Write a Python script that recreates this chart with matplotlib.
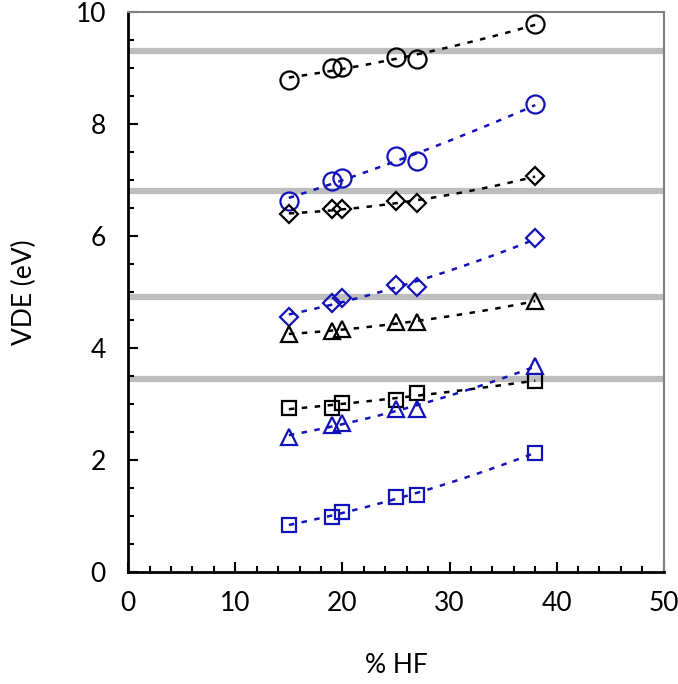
import numpy as np
import matplotlib
matplotlib.use("Agg")
import matplotlib.pyplot as plt
from matplotlib.ticker import MultipleLocator

hf = [15, 19, 20, 25, 27, 38]

black_circle = [8.79, 9.00, 9.02, 9.21, 9.16, 9.79]
blue_circle = [6.63, 6.98, 7.04, 7.43, 7.34, 8.36]
black_diamond = [6.39, 6.48, 6.48, 6.63, 6.59, 7.07]
blue_diamond = [4.55, 4.80, 4.89, 5.13, 5.09, 5.96]
black_triangle = [4.25, 4.30, 4.34, 4.46, 4.46, 4.84]
black_square = [2.93, 2.93, 3.02, 3.07, 3.20, 3.41]
blue_triangle = [2.41, 2.63, 2.66, 2.91, 2.91, 3.68]
blue_square = [0.84, 0.98, 1.07, 1.34, 1.38, 2.13]

reference_levels = [9.30, 6.80, 4.91, 3.45]

BLUE = "#1212b8"
BLACK = "#000000"

series = [
    (black_circle, BLACK, "o", 13),
    (blue_circle, BLUE, "o", 13),
    (black_diamond, BLACK, "D", 9),
    (blue_diamond, BLUE, "D", 9),
    (black_triangle, BLACK, "^", 12),
    (black_square, BLACK, "s", 10.5),
    (blue_triangle, BLUE, "^", 12),
    (blue_square, BLUE, "s", 10.5),
]

plt.rcParams['font.family'] = ['Lato', 'DejaVu Sans']

fig = plt.figure(figsize=(6.78, 6.84), dpi=100)
ax = fig.add_axes([0.189, 0.164, 0.790, 0.818])

for lvl in reference_levels:
    ax.axhline(lvl, color="#bdbdbd", lw=4.5, zorder=1)

xs = np.array(hf, dtype=float)
xfit = np.linspace(xs.min(), xs.max(), 100)
for vals, col, mk, ms in series:
    coef = np.polyfit(xs, vals, 2)
    ax.plot(xfit, np.polyval(coef, xfit), ls=(0, (2.2, 3.0)), color=col, lw=1.8, zorder=2)
    ax.plot(xs, vals, ls="none", marker=mk, ms=ms, mfc="none", mec=col, mew=1.6, zorder=3)

ax.set_xlim(0, 50)
ax.set_ylim(0, 10)
ax.xaxis.set_major_locator(MultipleLocator(10))
ax.xaxis.set_minor_locator(MultipleLocator(2))
ax.yaxis.set_major_locator(MultipleLocator(2))
ax.yaxis.set_minor_locator(MultipleLocator(0.5))
ax.tick_params(which="both", direction="in", top=False, right=False, width=1.5, colors="black")
ax.tick_params(which="major", length=7, labelsize=19)
ax.tick_params(axis="y", which="major", pad=16)
ax.tick_params(axis="x", which="major", pad=14)
ax.tick_params(which="minor", length=4)

for side in ["left", "bottom"]:
    ax.spines[side].set_color("black")
    ax.spines[side].set_linewidth(2)
for side in ["top", "right"]:
    ax.spines[side].set_color("#808080")
    ax.spines[side].set_linewidth(1.5)

ax.set_xlabel("% HF", fontsize=19)
ax.set_ylabel("VDE (eV)", fontsize=19)
ax.xaxis.set_label_coords(0.5, -0.145)
ax.yaxis.set_label_coords(-0.17, 0.5)

fig.savefig("out.png", dpi=100)
